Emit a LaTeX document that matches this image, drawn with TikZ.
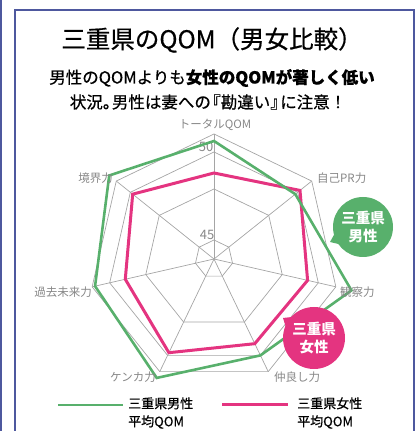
\documentclass[tikz,border=0pt]{standalone}
\usepackage{fontspec}
\setmainfont{Noto Sans CJK JP}
\newfontfamily\medfont[FakeBold=0.6]{Noto Sans CJK JP}
\usetikzlibrary{calc}
\definecolor{frameblue}{RGB}{78,88,158}
\definecolor{qgreen}{RGB}{88,176,108}
\definecolor{qpink}{RGB}{228,52,128}
\definecolor{gridgray}{RGB}{165,165,165}
\definecolor{labelgray}{RGB}{135,135,135}
\begin{document}
\begin{tikzpicture}[x=1pt,y=1pt,
    frame/.style={frameblue,line width=2pt},
    ring/.style={gridgray,line width=0.7pt},
    axlabel/.style={labelgray,font=\fontsize{11.5}{13}\selectfont,inner sep=1pt},
    maleline/.style={qgreen,line width=2.6pt},
    femaleline/.style={qpink,line width=3pt},
    bubble/.style={circle,minimum size=60pt,inner sep=0pt,text=white,align=center,
      font=\fontsize{14.5}{18}\selectfont\bfseries},
    legendtext/.style={anchor=west,align=left,inner sep=0pt,font=\medfont\fontsize{13}{18}\selectfont}]
  \useasboundingbox (0,0) rectangle (419,431);
  % frame
  \draw[frame] (1,0) -- (1,431);
  \draw[frame] (14.5,0) -- (14.5,421) -- (414,421) -- (414,0);
  % heading
  \node[font=\medfont\fontsize{24.5}{28}\selectfont] (title) at (212,391) {三重県のQOM（男女比較）};
  \node[font=\medfont\fontsize{16.5}{19}\selectfont] (sub1) at (212,353) {男性のQOMよりも\textbf{女性のQOMが著しく低い}};
  \node[font=\medfont\fontsize{16.5}{19}\selectfont] (sub2) at (208,329)
    {状況。\kern-.45em 男性は妻への\kern-.4em『勘違い』\kern-.4em に注意！};
  % radar grid
  \begin{scope}[shift={(214,172)}]
    \foreach \r in {19,70,107,125}
      \draw[ring] (90:\r) \foreach \k in {1,...,6} { -- ({90-\k*360/7}:\r)} -- cycle;
    \foreach \k in {0,...,6}
      \draw[ring] (0,0) -- ({90-\k*360/7}:125);
    \node[axlabel,font=\fontsize{13}{14}\selectfont] (v50) at (-8,112) {50};
    \node[axlabel,font=\fontsize{13}{14}\selectfont] (v45) at (-7,24) {45};
    % women
    \draw[femaleline] plot coordinates {(90:86) (38.57:110) (-12.86:96) (-64.29:94)
      (-115.71:104) (-167.14:91) (-218.57:104)} -- cycle;
    % men
    \draw[maleline] plot coordinates {(90:118) (38.57:104) (-12.86:141) (-64.29:107)
      (-115.71:132) (-167.14:122) (-218.57:134)} -- cycle;
  \end{scope}
  % axis labels
  \node[axlabel] (total) at (215,306) {トータルQOM};
  \node[axlabel,anchor=west] (selfpr) at (316,253) {自己PR力};
  \node[axlabel,anchor=west] (observe) at (339,139) {観察力};
  \node[axlabel] (friend) at (297,54) {仲良し力};
  \node[axlabel] (fight) at (133,54) {ケンカ力};
  \node[axlabel,anchor=east] (pastfuture) at (93,139) {過去未来力};
  \node[axlabel,anchor=east] (border) at (114,253) {境界力};
  % bubbles
  \node[bubble,fill=qgreen] (menbub) at (363,204) {三重県\\男性};
  \fill[qgreen] ($(menbub.center)+(188:27)$) -- (330,189) -- ($(menbub.center)+(222:27)$) -- cycle;
  \node[bubble,fill=qpink,minimum size=62pt] (womenbub) at (314,93) {三重県\\女性};
  \fill[qpink] ($(womenbub.center)+(130:28)$) -- (283,113) -- ($(womenbub.center)+(165:28)$) -- cycle;
  % legend
  \draw[qgreen,line width=2.6pt] (58,26) -- (123,26);
  \node[legendtext] (menkey) at (128,18) {三重県男性\\平均QOM};
  \draw[qpink,line width=3pt] (222,26) -- (288,26);
  \node[legendtext] (womenkey) at (297,18) {三重県女性\\平均QOM};
\end{tikzpicture}
\end{document}
